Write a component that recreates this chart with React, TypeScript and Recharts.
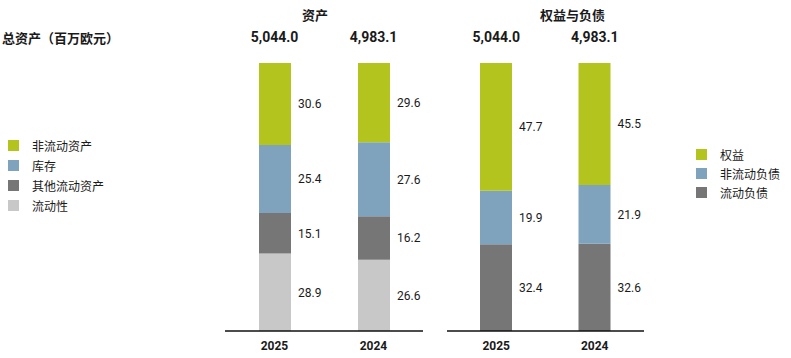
import { BarChart, Bar, XAxis, YAxis, LabelList } from "recharts";

const years = ["2025", "2024"];
const totals = ["5,044.0", "4,983.1"];

// assets, bottom to top (%)
const liquidity = [28.9, 26.6];
const otherCurrent = [15.1, 16.2];
const inventory = [25.4, 27.6];
const nonCurrentAssets = [30.6, 29.6];

// equity & liabilities, bottom to top (%)
const currentLiab = [32.4, 32.6];
const nonCurrentLiab = [19.9, 21.9];
const equity = [47.7, 45.5];

const GREEN = "#b3c41f";
const BLUE = "#7fa3bd";
const DARK = "#767676";
const LIGHT = "#c8c8c8";
const TEXT = "#1a1a1a";
const FONT = "Roboto, 'Noto Sans CJK SC', sans-serif";

const assetData = years.map((y, i) => ({
  year: y,
  total: totals[i],
  liquidity: liquidity[i],
  otherCurrent: otherCurrent[i],
  inventory: inventory[i],
  nonCurrentAssets: nonCurrentAssets[i],
}));

const liabData = years.map((y, i) => ({
  year: y,
  total: totals[i],
  currentLiab: currentLiab[i],
  nonCurrentLiab: nonCurrentLiab[i],
  equity: equity[i],
}));

const assetSeries = [
  { key: "liquidity", name: "流动性", color: LIGHT },
  { key: "otherCurrent", name: "其他流动资产", color: DARK },
  { key: "inventory", name: "库存", color: BLUE },
  { key: "nonCurrentAssets", name: "非流动资产", color: GREEN },
];

const liabSeries = [
  { key: "currentLiab", name: "流动负债", color: DARK },
  { key: "nonCurrentLiab", name: "非流动负债", color: BLUE },
  { key: "equity", name: "权益", color: GREEN },
];

const fmt = (v: any) => Number(v).toFixed(1);

function Panel({ data, series, left, right }: { data: any[]; series: any[]; left: number; right: number }) {
  return (
    <div style={{ position: "absolute", left: 0, top: 0 }}>
      <BarChart
        width={791}
        height={358}
        data={data}
        barSize={32}
        margin={{ top: 33, right, bottom: 0, left }}
      >
        <XAxis
          xAxisId="top"
          dataKey="total"
          orientation="top"
          height={30}
          axisLine={false}
          tickLine={false}
          tickSize={0}
          tickMargin={21}
          tick={{ fill: TEXT, fontSize: 14, fontWeight: 700, fontFamily: FONT }}
        />
        <XAxis
          dataKey="year"
          height={27}
          axisLine={{ stroke: "#111", strokeWidth: 1.5 }}
          tickLine={false}
          tickSize={0}
          tickMargin={10}
          tick={{ fill: TEXT, fontSize: 12, fontWeight: 700, fontFamily: FONT }}
        />
        <YAxis hide domain={[0, 100]} />
        {series.map((s) => (
          <Bar
            key={s.key}
            dataKey={s.key}
            name={s.name}
            stackId="a"
            xAxisId={0}
            fill={s.color}
            isAnimationActive={false}
          >
            <LabelList
              dataKey={s.key}
              position="right"
              offset={7}
              formatter={fmt}
              style={{ fill: TEXT, fontSize: 12, fontFamily: FONT }}
            />
          </Bar>
        ))}
      </BarChart>
    </div>
  );
}

function LegendBox({ series, left, top, gap }: { series: any[]; left: number; top: number; gap: number }) {
  const items = [...series].reverse();
  return (
    <div style={{ position: "absolute", left, top, fontFamily: FONT, fontSize: 12, color: TEXT }}>
      {items.map((s) => (
        <div key={s.key} style={{ display: "flex", alignItems: "center", height: gap }}>
          <span style={{ width: 11, height: 11, background: s.color, display: "inline-block", marginRight: 13 }} />
          <span>{s.name}</span>
        </div>
      ))}
    </div>
  );
}

export default function App() {
  return (
    <div style={{ position: "absolute", left: 0, top: 0, width: 791, height: 358, background: "#fff", fontFamily: FONT }}>
      <div style={{ position: "absolute", left: 2, top: 28, fontSize: 13, fontWeight: 700, color: TEXT }}>
        总资产（百万欧元）
      </div>
      <div style={{ position: "absolute", left: 302, top: 5, fontSize: 13, fontWeight: 700, color: TEXT }}>资产</div>
      <div style={{ position: "absolute", left: 540, top: 5, fontSize: 13, fontWeight: 700, color: TEXT }}>
        权益与负债
      </div>
      <Panel data={assetData} series={assetSeries} left={225} right={368} />
      <Panel data={liabData} series={liabSeries} left={447} right={147} />
      <LegendBox series={assetSeries} left={8} top={135} gap={20} />
      <LegendBox series={liabSeries} left={696} top={145} gap={19} />
    </div>
  );
}
